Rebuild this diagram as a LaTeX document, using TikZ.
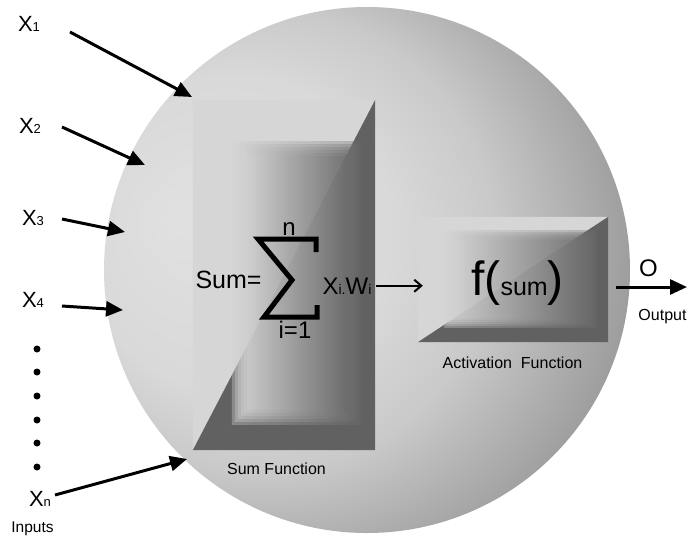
\documentclass[tikz,border=0pt]{standalone}
\usepackage{fontspec}
\setmainfont{Liberation Sans}
\usetikzlibrary{arrows.meta,calc}

% bright spot on the left, getting darker to the right and bottom
\pgfdeclareradialshading{neuronball}{\pgfpoint{-18bp}{5bp}}{%
  color(0bp)=(black!12); color(15bp)=(black!15); color(22bp)=(black!21);
  color(35bp)=(black!44); color(50bp)=(black!47)}

\newcommand{\fs}[2]{{\fontsize{#1}{#1}\selectfont #2}}

\begin{document}
\begin{tikzpicture}[x=1pt,y=-1pt,>=Stealth,
        inarrow/.style={-{Triangle[length=17pt,width=15pt]},line width=3pt},
        midarrow/.style={-{Straight Barb[length=7pt,width=12pt]},line width=2pt},
        lbl/.style={anchor=base,inner sep=0pt},
        small/.style={lbl,font=\fontsize{16}{16}\selectfont},
        boxlight/.style={fill=black!16},
        boxdark/.style={fill=black!62},
        boxface/.style={left color=black!17,middle color=black!28,right color=black!58,fill opacity=0.36},
        sigmastroke/.style={line width=5pt,line join=miter},
        dot/.style={circle,fill=black,inner sep=0pt,minimum size=7pt}]
    \useasboundingbox (0,0) rectangle (690,539);
    % --- neuron body ---
    \node[circle,shading=neuronball,minimum size=526pt,inner sep=0pt] (ball) at (367,270) {};
    % --- summation block: light half upper left, dark half lower right,
    %     raised face drawn as a few see-through layers so its edge is soft ---
    \node[minimum width=182pt,minimum height=350pt,inner sep=0pt] (sum) at (284,275) {};
    \fill[boxlight] (sum.north west) -- (sum.north east) -- (sum.south west) -- cycle;
    \fill[boxdark] (sum.north east) -- (sum.south east) -- (sum.south west) -- cycle;
    \foreach \s in {-6,-3,0,3,6,9}
        \shade[boxface] ($(sum.north west)+(45+\s,48+\s)$) rectangle ($(sum.south east)+(-20-\s,-32-\s)$);
    % --- activation block ---
    \node[minimum width=190pt,minimum height=125pt,inner sep=0pt] (act) at (513,279.5) {};
    \fill[boxlight] (act.north west) -- (act.north east) -- (act.south west) -- cycle;
    \fill[boxdark] (act.north east) -- (act.south east) -- (act.south west) -- cycle;
    \foreach \s in {-4,-2,0,2,4,6}
        \shade[boxface] ($(act.north west)+(30+\s,18+\s)$) rectangle ($(act.south east)+(-15-\s,-19-\s)$);
    % --- formula in the sum block ---
    \node[lbl] (sumeq) at (228.5,288.5) {\fs{25}{Sum=}};
    \draw[sigmastroke] (316,252) -- (316,239) -- (258,239) -- (292,280) -- (264,317) -- (317,317) -- (317,305);
    \node[lbl] (upper) at (289,235) {\fs{24}{n}};
    \node[lbl] (lower) at (295,338) {\fs{24}{i=1}};
    \node[lbl] (xw) at (347,294) {\fs{24}{X}\fs{14}{i.}\fs{24}{W}\fs{14}{i}};
    \node[lbl] (fsum) at (517.5,295) {\fs{48}{f(}\fs{25}{sum}\fs{48}{)}};
    \node[small] (sumlbl) at (276.5,474) {Sum Function};
    \node[small] (actlbl) at (512.5,368) {Activation\ \ Function};
    % --- inputs ---
    \node[lbl] (x1) at (29,31.5) {\fs{22}{X}\fs{13}{1}};
    \node[lbl] (x2) at (30,133) {\fs{22}{X}\fs{13}{2}};
    \node[lbl] (x3) at (33,225) {\fs{22}{X}\fs{13}{3}};
    \node[lbl] (x4) at (33,307) {\fs{22}{X}\fs{13}{4}};
    \node[lbl] (xn) at (40,506) {\fs{22}{X}\fs{13}{n}};
    \foreach \y [count=\i] in {349,372,396,420,443,467}
        \node[dot] (d\i) at (37,\y) {};
    \node[lbl,font=\fontsize{15.5}{15.5}\selectfont] (inputs) at (32.5,532.5) {Inputs};
    \coordinate (in1) at (70,32);  \coordinate (tip1) at (192,97);
    \coordinate (in2) at (62,127); \coordinate (tip2) at (145,165);
    \coordinate (in3) at (62,219); \coordinate (tip3) at (125,232);
    \coordinate (in4) at (62,306); \coordinate (tip4) at (123,310);
    \coordinate (inn) at (55,495); \coordinate (tipn) at (187,459);
    \foreach \k in {1,2,3,4,n}
        \draw[inarrow] (in\k) -- (tip\k);
    % --- sum to activation, activation to output ---
    \draw[midarrow,shorten <=4pt,shorten >=-5pt] (xw.east) -- (xw.east -| act.west);
    \coordinate (out) at (687,287);
    \draw[inarrow,shorten <=8pt] (act.east |- out) -- (out);
    \node[lbl] (o) at (648.5,276) {\fs{24}{O}};
    \node[small] (outlbl) at (662.5,320.5) {Output};
\end{tikzpicture}
\end{document}
